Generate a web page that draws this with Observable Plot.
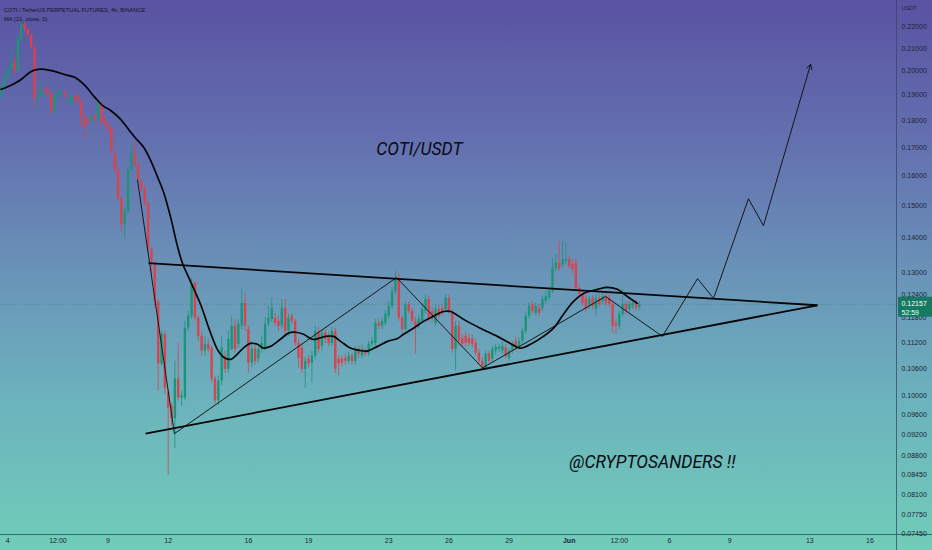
<!DOCTYPE html>
<html><head><meta charset="utf-8">
<script src="https://cdn.jsdelivr.net/npm/d3@7"></script>
<script src="https://cdn.jsdelivr.net/npm/@observablehq/plot@0.6"></script>
<style>
html,body{margin:0;padding:0;overflow:hidden;background:#6a93b8}
#chart svg{display:block}
</style></head><body><div id="chart"></div>
<script>
// ---- 4h candles, COTI/USDT perpetual (bar 0 opens May 3 16:00; day 0 = May 4 00:00)
const firstBarDay = -1/3;
const barHours = 4;
const openP = [0.1900,0.1928,0.1974,0.2008,0.2038,0.2003,0.2140,0.2209,0.2186,0.2158,0.2104,0.1884,0.1900,0.1920,0.1920,0.1904,0.1840,0.1892,0.1904,0.1912,0.1868,0.1868,0.1896,0.1892,0.1872,0.1813,0.1801,0.1794,0.1813,0.1801,0.1864,0.1805,0.1782,0.1767,0.1676,0.1620,0.1523,0.1441,0.1481,0.1620,0.1676,0.1637,0.1579,0.1555,0.1506,0.1366,0.1323,0.1223,0.1070,0.1140,0.1006,0.0978,0.0952,0.1036,0.0995,0.0995,0.1155,0.1185,0.1271,0.1180,0.1135,0.1100,0.1116,0.1107,0.1036,0.0989,0.1032,0.1088,0.1058,0.1104,0.1160,0.1116,0.1160,0.1218,0.1152,0.1072,0.1104,0.1081,0.1104,0.1107,0.1165,0.1177,0.1180,0.1172,0.1160,0.1205,0.1147,0.1185,0.1172,0.1118,0.1107,0.1058,0.1081,0.1072,0.1088,0.1147,0.1111,0.1143,0.1135,0.1118,0.1147,0.1081,0.1081,0.1083,0.1076,0.1088,0.1076,0.1104,0.1088,0.1100,0.1093,0.1116,0.1118,0.1167,0.1160,0.1167,0.1185,0.1210,0.1249,0.1284,0.1180,0.1152,0.1215,0.1197,0.1172,0.1160,0.1172,0.1197,0.1228,0.1197,0.1167,0.1202,0.1205,0.1202,0.1231,0.1192,0.1104,0.1160,0.1130,0.1135,0.1130,0.1128,0.1118,0.1095,0.1076,0.1061,0.1093,0.1081,0.1100,0.1104,0.1100,0.1107,0.1083,0.1100,0.1123,0.1111,0.1123,0.1147,0.1185,0.1215,0.1192,0.1205,0.1205,0.1223,0.1231,0.1249,0.1312,0.1326,0.1323,0.1332,0.1337,0.1323,0.1326,0.1257,0.1241,0.1231,0.1210,0.1231,0.1202,0.1231,0.1223,0.1236,0.1231,0.1215,0.1167,0.1160,0.1190,0.1215,0.1202,0.1210,0.1218,0.1207];
const highP = [0.1941,0.1982,0.2025,0.2095,0.2060,0.2158,0.2228,0.2219,0.2191,0.2167,0.2108,0.1920,0.1961,0.1932,0.1928,0.1912,0.1904,0.1932,0.1920,0.1920,0.1884,0.1904,0.1904,0.1900,0.1880,0.1821,0.1813,0.1821,0.1824,0.1872,0.1872,0.1813,0.1794,0.1775,0.1683,0.1626,0.1529,0.1497,0.1630,0.1712,0.1719,0.1647,0.1589,0.1562,0.1513,0.1372,0.1332,0.1228,0.1147,0.1147,0.1014,0.0984,0.1076,0.1118,0.1010,0.1172,0.1197,0.1284,0.1276,0.1185,0.1147,0.1135,0.1128,0.1111,0.1043,0.1043,0.1135,0.1100,0.1147,0.1185,0.1177,0.1177,0.1255,0.1244,0.1160,0.1123,0.1118,0.1116,0.1135,0.1182,0.1210,0.1231,0.1192,0.1185,0.1228,0.1228,0.1190,0.1192,0.1177,0.1128,0.1116,0.1086,0.1090,0.1100,0.1160,0.1157,0.1152,0.1150,0.1143,0.1157,0.1155,0.1090,0.1088,0.1093,0.1097,0.1095,0.1111,0.1111,0.1114,0.1107,0.1123,0.1133,0.1177,0.1177,0.1182,0.1200,0.1223,0.1260,0.1304,0.1298,0.1187,0.1223,0.1223,0.1205,0.1182,0.1187,0.1215,0.1241,0.1236,0.1207,0.1213,0.1213,0.1215,0.1241,0.1241,0.1202,0.1172,0.1172,0.1140,0.1145,0.1140,0.1138,0.1128,0.1104,0.1086,0.1100,0.1100,0.1111,0.1116,0.1116,0.1121,0.1116,0.1107,0.1123,0.1133,0.1130,0.1155,0.1195,0.1220,0.1223,0.1220,0.1215,0.1236,0.1247,0.1260,0.1340,0.1352,0.1390,0.1390,0.1384,0.1346,0.1337,0.1340,0.1265,0.1249,0.1239,0.1236,0.1239,0.1239,0.1239,0.1244,0.1244,0.1239,0.1223,0.1177,0.1197,0.1255,0.1223,0.1223,0.1226,0.1226,0.1223];
const lowP = [0.1884,0.1920,0.1965,0.1999,0.1986,0.1995,0.2126,0.2172,0.2145,0.2095,0.1852,0.1832,0.1888,0.1904,0.1892,0.1824,0.1821,0.1884,0.1892,0.1880,0.1856,0.1856,0.1876,0.1856,0.1775,0.1730,0.1782,0.1786,0.1794,0.1794,0.1786,0.1775,0.1748,0.1676,0.1606,0.1513,0.1419,0.1398,0.1475,0.1613,0.1630,0.1579,0.1545,0.1497,0.1354,0.1295,0.1205,0.1010,0.1065,0.1003,0.0843,0.0937,0.0893,0.0989,0.0978,0.0989,0.1147,0.1177,0.1172,0.1123,0.1088,0.1088,0.1095,0.1027,0.0982,0.0980,0.1021,0.1049,0.1049,0.1100,0.1095,0.1107,0.1152,0.1147,0.1049,0.1061,0.1067,0.1072,0.1095,0.1100,0.1157,0.1170,0.1160,0.1147,0.1152,0.1140,0.1135,0.1165,0.1111,0.1061,0.1049,0.1016,0.1061,0.1027,0.1081,0.1095,0.1100,0.1118,0.1111,0.1111,0.1049,0.1043,0.1063,0.1067,0.1070,0.1067,0.1067,0.1083,0.1081,0.1086,0.1086,0.1109,0.1111,0.1152,0.1152,0.1160,0.1177,0.1202,0.1241,0.1172,0.1143,0.1145,0.1190,0.1165,0.1093,0.1152,0.1165,0.1190,0.1172,0.1170,0.1160,0.1177,0.1185,0.1195,0.1190,0.1095,0.1054,0.1111,0.1107,0.1109,0.1111,0.1107,0.1088,0.1067,0.1056,0.1056,0.1070,0.1074,0.1090,0.1097,0.1093,0.1081,0.1076,0.1093,0.1100,0.1104,0.1116,0.1140,0.1177,0.1190,0.1185,0.1185,0.1197,0.1215,0.1223,0.1244,0.1304,0.1304,0.1315,0.1323,0.1309,0.1298,0.1249,0.1233,0.1210,0.1195,0.1202,0.1202,0.1185,0.1207,0.1215,0.1210,0.1207,0.1143,0.1140,0.1152,0.1182,0.1190,0.1195,0.1202,0.1197,0.1200];
const closeP = [0.1932,0.1974,0.2008,0.2038,0.2003,0.2140,0.2209,0.2186,0.2158,0.2104,0.1884,0.1892,0.1920,0.1916,0.1904,0.1840,0.1900,0.1904,0.1908,0.1900,0.1872,0.1900,0.1884,0.1872,0.1813,0.1771,0.1794,0.1813,0.1801,0.1864,0.1794,0.1782,0.1763,0.1683,0.1620,0.1523,0.1441,0.1481,0.1620,0.1676,0.1637,0.1585,0.1555,0.1506,0.1366,0.1332,0.1223,0.1070,0.1140,0.1016,0.0974,0.0952,0.1036,0.0995,0.0999,0.1155,0.1185,0.1271,0.1180,0.1135,0.1100,0.1116,0.1104,0.1036,0.0989,0.1032,0.1107,0.1058,0.1128,0.1160,0.1104,0.1165,0.1218,0.1160,0.1072,0.1104,0.1076,0.1104,0.1118,0.1165,0.1180,0.1205,0.1167,0.1160,0.1205,0.1147,0.1180,0.1172,0.1118,0.1083,0.1058,0.1076,0.1070,0.1088,0.1147,0.1104,0.1143,0.1128,0.1118,0.1147,0.1058,0.1070,0.1072,0.1076,0.1088,0.1076,0.1104,0.1093,0.1104,0.1093,0.1116,0.1123,0.1167,0.1160,0.1172,0.1190,0.1210,0.1249,0.1284,0.1180,0.1152,0.1215,0.1197,0.1172,0.1160,0.1177,0.1202,0.1228,0.1180,0.1180,0.1202,0.1185,0.1192,0.1231,0.1197,0.1104,0.1160,0.1123,0.1116,0.1118,0.1118,0.1116,0.1095,0.1076,0.1061,0.1093,0.1076,0.1104,0.1109,0.1109,0.1111,0.1088,0.1100,0.1116,0.1107,0.1123,0.1147,0.1185,0.1210,0.1197,0.1210,0.1192,0.1228,0.1236,0.1249,0.1312,0.1326,0.1312,0.1337,0.1337,0.1318,0.1309,0.1257,0.1241,0.1218,0.1202,0.1228,0.1210,0.1231,0.1215,0.1236,0.1218,0.1215,0.1160,0.1160,0.1190,0.1215,0.1197,0.1215,0.1218,0.1205,0.12157];

// MA (21, close) as drawn on the chart: bar position -> value
const maBar = [0,3,6,9,11,13,16,19,22,25,28,30.6,32.7,35.7,38.1,40.2,42.6,44.7,46.8,48.6,50.7,52.8,54.3,56.7,59.7,62.7,65,67.1,68.9,70.7,72.5,74.6,76.7,78.5,80.6,83.6,86,88.1,90.5,93.2,95,97.1,99.5,101.6,104.5,106.9,109.6,112.6,115.6,118.6,120.4,123.4,126.4,129.4,132.4,134.5,138.4,143.4,148.5,152.4,155.4,158.4,162.3,165.3,168.3,171.3,174.3,178.5,181.4,184.4,187.4,190.4];
const maVal = [0.1924,0.1941,0.1965,0.1999,0.2008,0.2008,0.1999,0.1986,0.1974,0.1941,0.1892,0.1856,0.1840,0.1805,0.1767,0.1734,0.1701,0.1654,0.1596,0.1545,0.1465,0.1375,0.1326,0.1276,0.1215,0.1143,0.1100,0.1083,0.1081,0.1093,0.1107,0.1118,0.1116,0.1107,0.1111,0.1128,0.1143,0.1145,0.1140,0.1128,0.1130,0.1135,0.1135,0.1123,0.1107,0.1102,0.1100,0.1111,0.1123,0.1130,0.1140,0.1155,0.1172,0.1185,0.1197,0.1197,0.1177,0.1155,0.1135,0.1118,0.1107,0.1116,0.1135,0.1155,0.1190,0.1223,0.1244,0.1255,0.1260,0.1255,0.1236,0.1218];

// Triangle trendlines (day, price)
const trendDay1 = [7.02, 6.87];
const trendP1 = [0.1327, 0.0922];
const trendDay2 = [40.38, 40.38];
const trendP2 = [0.1213, 0.1213];

// Projection zig-zag path (day, price); last leg is the arrow
const zigDay = [6.47, 8.31, 19.39, 23.68, 29.81, 32.65, 34.40, 35.20, 36.94, 37.69, 40.04];
const zigP = [0.1585, 0.0922, 0.1287, 0.1061, 0.1236, 0.1135, 0.1284, 0.1231, 0.1523, 0.1438, 0.2029];

// Axes
const yTicks = [0.22,0.21,0.20,0.19,0.18,0.17,0.16,0.15,0.14,0.13,0.124,0.118,0.112,0.106,0.10,0.096,0.092,0.088,0.0845,0.081,0.0775,0.0745];
const xTickDays = [0,2.5,5,8,12,15,19,22,25,28,30.5,33,36,40,43];
const xTickLabels = ["4","12:00","9","12","16","19","23","26","29","Jun","12:00","6","9","13","16"];
const xDomain = [-0.3641, 44.325];
const yDomain = [0.074334, 0.2326];
const lastPrice = 0.12157;
const countdown = "52:59";
const notes = [{day: 20.53, price: 0.1693, text: "COTI/USDT"}, {day: 32.15, price: 0.0868, text: "@CRYPTOSANDERS !!"}];

const bars = openP.map((o, i) => ({
  day: firstBarDay + i * barHours / 24,
  open: o, high: highP[i], low: lowP[i], close: closeP[i],
  up: closeP[i] >= o
}));
const ma = maBar.map((b, i) => ({day: firstBarDay + b * barHours / 24, v: maVal[i]}));
const trends = trendDay1.map((d, i) => ({d1: d, p1: trendP1[i], d2: trendDay2[i], p2: trendP2[i]}));
const zig = zigDay.map((d, i) => ({d, p: zigP[i]}));
const xTicks = xTickDays.map((d, i) => ({d, label: xTickLabels[i]}));

const W = 932, H = 550, MR = 36, MB = 16;
// pixel <-> data ratios, used only to extend lines/box into the axis margins
const pxPerDay = (W - MR) / (xDomain[1] - xDomain[0]);
const pxPerLn = (H - MB) / Math.log(yDomain[1] / yDomain[0]);
const dayAtRightEdge = xDomain[1] + MR / pxPerDay;
const priceAtBottomEdge = yDomain[0] * Math.exp(-MB / pxPerLn);

const UP = "#1b9479", DOWN = "#d8434d";
const axisText = "#1c2436";
const smallFont = "'Liberation Sans', Arial, sans-serif";

const chart = Plot.plot({
  width: W, height: H,
  marginTop: 0, marginRight: MR, marginBottom: MB, marginLeft: 0,
  style: {background: "linear-gradient(180deg, #5a52a2 0%, #6472b0 27%, #6a94b8 50%, #6cb3bd 73%, #70cdb8 100%)", overflow: "hidden"},
  x: {type: "linear", domain: xDomain, axis: null},
  y: {type: "log", domain: yDomain, axis: null},
  marks: [
    Plot.ruleY([lastPrice], {y: d => d, stroke: "#3f7f86", strokeWidth: 1, strokeDasharray: "1,2", strokeOpacity: 0.9}),
    Plot.ruleX(bars, {x: "day", y1: "low", y2: "high", stroke: d => d.up ? UP : DOWN, strokeWidth: 0.8}),
    Plot.ruleX(bars, {x: "day", y1: "open", y2: "close", stroke: d => d.up ? UP : DOWN, strokeWidth: 2.4}),
    Plot.line(ma, {x: "day", y: "v", curve: "catmull-rom", stroke: "#050505", strokeWidth: 1.7}),
    Plot.link(trends, {x1: "d1", y1: "p1", x2: "d2", y2: "p2", stroke: "#050505", strokeWidth: 1.8}),
    Plot.line(zig.slice(0, zig.length - 1), {x: "d", y: "p", stroke: "#0a0a0a", strokeWidth: 0.9}),
    Plot.arrow([zig.slice(-2)], {x1: a => a[0].d, y1: a => a[0].p, x2: a => a[1].d, y2: a => a[1].p, stroke: "#0a0a0a", strokeWidth: 0.9, headLength: 9}),
    Plot.text(notes, {x: "day", y: "price", text: "text", fontSize: 17.5, fontStyle: "italic", fontFamily: "Roboto, 'Noto Sans', sans-serif", fill: "#0b0b14"}),
    // axis frame lines
    Plot.ruleY([yDomain[0]], {y: d => d, x1: () => xDomain[0], x2: () => dayAtRightEdge, stroke: "#2f6f68", strokeWidth: 1}),
    Plot.ruleX([xDomain[1]], {x: d => d, y1: () => yDomain[1], y2: () => priceAtBottomEdge, stroke: "#34456a", strokeOpacity: 0.75, strokeWidth: 1}),
    Plot.text(yTicks, {y: d => d, frameAnchor: "right", dx: 5, textAnchor: "start", text: d => d3.format(".5f")(d), fontSize: 7, fontFamily: smallFont, fill: axisText}),
    // last price label box
    Plot.rect([lastPrice], {x1: () => xDomain[1] + 2 / pxPerDay, x2: () => dayAtRightEdge, y1: p => p * Math.exp(7 / pxPerLn), y2: p => p * Math.exp(-13 / pxPerLn), fill: "#167a62"}),
    Plot.text([lastPrice], {y: d => d, frameAnchor: "right", dx: 5, textAnchor: "start", text: d => d3.format(".5f")(d), fontSize: 7, fontFamily: smallFont, fill: "#ffffff"}),
    Plot.text([lastPrice], {y: d => d, frameAnchor: "right", dx: 5, dy: 8.5, textAnchor: "start", text: () => countdown, fontSize: 7, fontFamily: smallFont, fill: "#e8fff8"}),
    Plot.text(xTicks.filter(t => t.label !== "Jun"), {x: "d", frameAnchor: "bottom", dy: 8.5, text: "label", fontSize: 7, fontFamily: smallFont, fill: axisText}),
    Plot.text(xTicks.filter(t => t.label === "Jun"), {x: "d", frameAnchor: "bottom", dy: 8.5, text: "label", fontSize: 7, fontWeight: "bold", fontFamily: smallFont, fill: axisText}),
    Plot.text(["COTI / TetherUS PERPETUAL FUTURES, 4h, BINANCE"], {frameAnchor: "top-left", dx: 3.5, dy: 8, textAnchor: "start", fontSize: 5.6, fontFamily: smallFont, fill: "#11152a"}),
    Plot.text(["MA (21, close, 0)"], {frameAnchor: "top-left", dx: 3.5, dy: 16.7, textAnchor: "start", fontSize: 5.8, fontFamily: smallFont, fill: "#11152a"}),
    Plot.text(["USDT"], {frameAnchor: "top-right", dx: 5, dy: 6, textAnchor: "start", fontSize: 5.6, fontFamily: smallFont, fill: axisText})
  ]
});
document.getElementById("chart").appendChild(chart);
</script>
</body></html>
